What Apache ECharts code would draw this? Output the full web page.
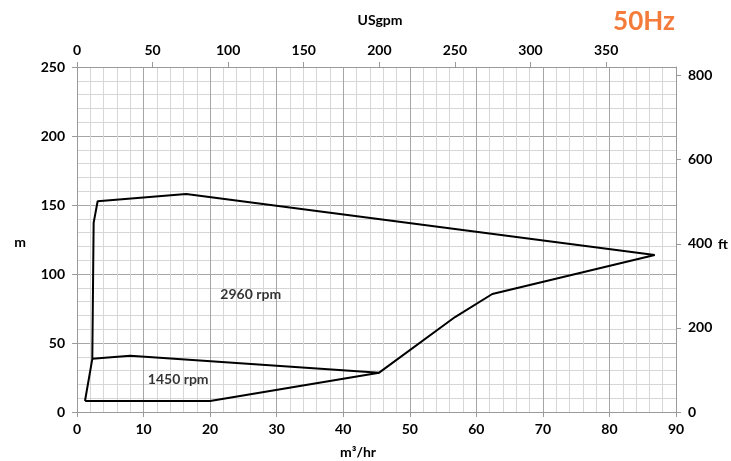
<!DOCTYPE html>
<html><head><meta charset="utf-8">
<script src="https://cdn.jsdelivr.net/npm/echarts@6/dist/echarts.min.js"></script>
<style>html,body{margin:0;padding:0;background:#fff}#c{width:731px;height:461px}</style>
</head><body><div id="c"></div>
<script>
// Envelope of 2960 rpm (outer) and 1450 rpm region, [m3/hr, m]
const outerCurve = [[1.2,8],[20,8],[45.4,28.5],[56.8,68.8],[62.4,85.5],[86.8,113.8],[16.4,158],[3.1,152.7],[2.5,137],[2.3,38.5],[1.2,8]];
const innerCurve = [[2.3,38.5],[8,40.8],[45.4,28.5]];
const curveLabels = [{name:'2960 rpm', value:[26.1,85.5]},{name:'1450 rpm', value:[15.2,23.2]}];
const flowMax = 90, headMax = 250;
const gpmPerM3h = 4.402868, ftPerM = 3.28084;

const font = 'Lato';
const labelStyle = {color:'#000', fontFamily:font, fontWeight:'bold', fontSize:14};
const axisLine = {show:true,onZero:false,lineStyle:{color:'#999'}};
const axisTick = {show:true,length:5,lineStyle:{color:'#999'}};
const chart = echarts.init(document.getElementById('c'));
chart.setOption({
  animation:false,
  grid:{left:77,right:55,top:67,bottom:49},
  xAxis:[
    {type:'value',position:'bottom',min:0,max:flowMax,interval:10,
     axisLine:axisLine,axisTick:axisTick,
     axisLabel:Object.assign({margin:10},labelStyle),
     splitLine:{show:true,lineStyle:{color:'#a6a6a6',width:1}},
     minorTick:{show:false,splitNumber:5},
     minorSplitLine:{show:true,lineStyle:{color:'#d6d6d6',width:1}}},
    {type:'value',position:'top',min:0,max:flowMax*gpmPerM3h,interval:50,
     axisLine:axisLine,axisTick:axisTick,
     axisLabel:Object.assign({margin:10,showMaxLabel:false},labelStyle),
     splitLine:{show:false},minorTick:{show:false},minorSplitLine:{show:false}}
  ],
  yAxis:[
    {type:'value',position:'left',min:0,max:headMax,interval:50,
     axisLine:axisLine,axisTick:axisTick,
     axisLabel:Object.assign({margin:12},labelStyle),
     splitLine:{show:true,lineStyle:{color:'#a6a6a6',width:1}},
     minorTick:{show:false,splitNumber:5},
     minorSplitLine:{show:true,lineStyle:{color:'#d6d6d6',width:1}}},
    {type:'value',position:'right',min:0,max:headMax*ftPerM,interval:200,
     axisLine:axisLine,axisTick:axisTick,
     axisLabel:Object.assign({margin:12,showMaxLabel:false},labelStyle),
     splitLine:{show:false},minorTick:{show:false},minorSplitLine:{show:false}}
  ],
  series:[
    {type:'line',data:outerCurve,symbol:'none',lineStyle:{color:'#000',width:2},z:5},
    {type:'line',data:innerCurve,symbol:'none',lineStyle:{color:'#000',width:2},z:5},
    {type:'scatter',data:curveLabels,symbolSize:0,z:6,
     label:{show:true,position:'inside',formatter:p=>p.name,color:'#000',fontFamily:font,fontWeight:'bold',fontSize:14}}
  ],
  graphic:[
    {type:'text',x:380,y:20,style:{text:'USgpm',fill:'#000',font:'bold 14px Lato',align:'center',verticalAlign:'middle'}},
    {type:'text',x:20,y:242,style:{text:'m',fill:'#000',font:'bold 14px Lato',align:'center',verticalAlign:'middle'}},
    {type:'text',x:723,y:244,style:{text:'ft',fill:'#000',font:'bold 14px Lato',align:'center',verticalAlign:'middle'}},
    {type:'text',x:358,y:452,style:{text:'m³/hr',fill:'#000',font:'bold 14px Lato',align:'center',verticalAlign:'middle'}},
    {type:'text',x:644,y:22,style:{text:'50Hz',fill:'#f47b3a',font:'bold 26px Lato',align:'center',verticalAlign:'middle'}}
  ]
});
</script></body></html>
